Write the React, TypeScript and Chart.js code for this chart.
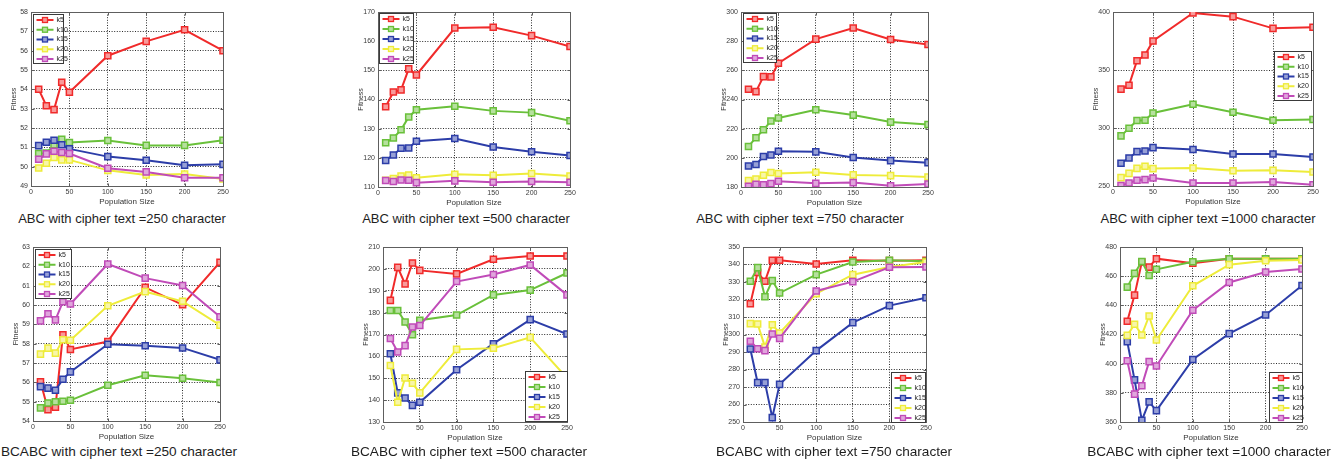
import React, { useEffect, useRef } from "react";
import { Chart, registerables } from "chart.js";

Chart.register(...registerables);

// ---------- data ----------
const populationSizes = [10, 20, 30, 40, 50, 100, 150, 200, 250];
const seriesLabels = ["k5", "k10", "k15", "k20", "k25"];
const seriesColors = ["#f02a2a", "#69c03a", "#2c3da8", "#eeec3a", "#c04bb8"];
const seriesFills = ["#f89a9a", "#b6e09e", "#97a0d6", "#f8f6a8", "#e0a6dc"];
const xTickValues = [0, 50, 100, 150, 200, 250];

// rows: k5, k10, k15, k20, k25
const abc250 = [
  [54.0, 53.15, 52.95, 54.37, 53.85, 55.74, 56.48, 57.08, 56.0],
  [50.68, 50.7, 51.13, 51.42, 51.25, 51.35, 51.1, 51.1, 51.37],
  [51.09, 51.26, 51.37, 51.13, 50.92, 50.52, 50.33, 50.07, 50.12],
  [49.93, 50.18, 50.47, 50.35, 50.35, 49.81, 49.57, 49.62, 49.36],
  [50.38, 50.66, 50.8, 50.73, 50.68, 49.92, 49.73, 49.43, 49.43],
];
const abc500 = [
  [137.5, 142.6, 143.3, 150.5, 148.4, 164.5, 164.8, 161.9, 158.2],
  [125.2, 126.8, 129.6, 134.0, 136.5, 137.7, 136.1, 135.5, 132.7],
  [119.1, 121.0, 123.3, 123.4, 125.7, 126.6, 123.7, 122.1, 120.8],
  [112.3, 112.9, 113.8, 114.1, 113.2, 114.4, 114.0, 114.6, 113.8],
  [112.2, 111.9, 112.4, 112.3, 111.5, 112.1, 111.6, 111.9, 111.6],
];
const abc750 = [
  [247.0, 245.4, 255.7, 255.5, 264.9, 281.4, 289.0, 281.2, 277.7],
  [207.8, 213.8, 219.2, 225.2, 227.3, 233.0, 229.3, 224.5, 222.9],
  [194.4, 195.4, 200.9, 202.0, 204.5, 204.1, 200.2, 198.1, 196.7],
  [184.4, 185.5, 188.0, 189.9, 189.2, 190.1, 188.3, 187.8, 186.9],
  [180.5, 181.8, 181.6, 182.3, 183.9, 182.5, 183.0, 180.9, 182.1],
];
const abc1000 = [
  [333.5, 336.9, 358.0, 362.9, 375.0, 399.1, 396.0, 385.9, 386.8],
  [293.2, 299.8, 306.4, 306.7, 313.0, 320.5, 313.6, 306.7, 307.3],
  [269.6, 274.2, 279.6, 280.2, 283.1, 281.4, 277.6, 277.6, 275.0],
  [257.2, 260.9, 265.2, 267.0, 265.0, 265.5, 263.2, 263.5, 262.1],
  [250.3, 252.6, 254.9, 255.5, 256.9, 252.6, 252.6, 253.4, 251.1],
];
const bcabc250 = [
  [56.03, 54.59, 54.71, 58.46, 57.7, 58.11, 60.91, 60.01, 62.21],
  [54.68, 54.93, 55.0, 55.02, 55.07, 55.85, 56.37, 56.21, 55.99],
  [55.78, 55.7, 55.59, 56.16, 56.54, 57.97, 57.89, 57.78, 57.16],
  [57.46, 57.77, 57.51, 58.2, 58.18, 59.96, 60.69, 60.19, 58.96],
  [59.18, 59.55, 59.23, 60.17, 60.05, 62.12, 61.39, 61.01, 59.39],
];
const bcabc500 = [
  [185.6, 200.7, 193.1, 202.7, 199.3, 197.7, 204.4, 205.9, 205.9],
  [181.0, 181.0, 175.7, 169.9, 176.5, 178.9, 188.1, 190.3, 198.1],
  [161.2, 143.3, 141.0, 137.6, 139.0, 153.9, 165.8, 176.8, 170.2],
  [155.8, 139.0, 150.1, 147.7, 143.3, 163.2, 163.7, 168.7, 150.1],
  [168.2, 162.0, 164.9, 173.4, 174.1, 194.2, 197.4, 201.8, 188.1],
];
const bcabc750 = [
  [317.6, 335.5, 330.4, 342.4, 342.4, 340.3, 342.4, 342.2, 342.4],
  [330.4, 338.2, 321.6, 330.8, 323.7, 334.2, 341.4, 342.4, 341.8],
  [291.7, 272.5, 272.5, 252.5, 271.5, 290.8, 306.8, 316.5, 321.0],
  [306.2, 306.0, 292.9, 305.6, 300.9, 323.3, 334.2, 338.6, 341.4],
  [296.1, 291.9, 290.8, 300.3, 297.8, 324.9, 330.2, 338.4, 338.6],
];
const bcabc1000 = [
  [429.1, 447.0, 469.7, 466.2, 472.0, 468.8, 472.0, 472.0, 472.0],
  [452.5, 461.9, 470.1, 460.5, 464.7, 469.9, 472.0, 472.0, 472.0],
  [415.1, 388.9, 361.1, 373.8, 367.8, 402.9, 420.6, 433.4, 453.6],
  [419.4, 427.0, 419.7, 432.7, 416.2, 453.4, 467.9, 470.6, 471.1],
  [402.0, 379.1, 384.8, 401.4, 398.4, 436.6, 455.7, 462.8, 464.9],
];

const panelSeries = [abc250, abc500, abc750, abc1000, bcabc250, bcabc500, bcabc750, bcabc1000];
const yMins = [49, 110, 180, 250, 54, 130, 250, 360];
const yMaxs = [58, 170, 300, 400, 63, 210, 350, 480];
const ySteps = [1, 10, 20, 50, 1, 10, 10, 20];
const captions = [
  "ABC with cipher text =250 character",
  "ABC with cipher text =500 character",
  "ABC with cipher text =750 character",
  "ABC with cipher text =1000 character",
  "BCABC with cipher text =250 character",
  "BCABC with cipher text =500 character",
  "BCABC with cipher text =750 character",
  "BCABC with cipher text =1000 character",
];

// ---------- layout ----------
const plotRects: [number, number, number, number][] = [
  [31, 12, 223, 186],
  [378, 12, 570, 187],
  [741, 12, 928, 187],
  [1113, 12, 1313, 186],
  [33, 247, 220, 421],
  [383, 247, 567, 422],
  [743, 247, 926, 422],
  [1120, 247, 1302, 422],
];
const legendRects: [number, number, number, number][] = [
  [33, 14, 30, 49],
  [379, 13, 34, 50],
  [743, 13, 33, 49],
  [1274, 51, 37, 49],
  [35, 249, 36, 49],
  [525, 371, 42, 50],
  [891, 372, 34, 50],
  [1269, 372, 33, 50],
];
const captionCenters = [122, 466, 800, 1208, 119, 469, 834, 1209];
const captionTops = [211, 211, 211, 211, 444, 444, 444, 444];
const captionSizes = [13, 13, 13, 13, 13.6, 13.6, 13.6, 13.6];

const PAD_L = 22; // y-axis width
const PAD_T = 8;
const PAD_R = 12;
const X_AXIS_H = 21;
const PAD_B = 2;
const FONT = "Arial, 'Liberation Sans', sans-serif";

function Panel({ idx }: { idx: number }) {
  const ref = useRef<HTMLCanvasElement>(null);
  const [l, t, r, b] = plotRects[idx];
  const cw = r - l + PAD_L + PAD_R;
  const ch = b - t + PAD_T + X_AXIS_H + PAD_B;

  useEffect(() => {
    const canvas = ref.current;
    if (!canvas) return;
    const series = panelSeries[idx];
    const [lx, ly, lw, lh] = legendRects[idx];

    const framePlugin = {
      id: "frame",
      beforeDatasetsDraw(chart: any) {
        const { ctx, chartArea: a } = chart;
        const L = Math.round(a.left) + 0.5;
        const T = Math.round(a.top) + 0.5;
        const R = Math.round(a.right) + 0.5;
        const B = Math.round(a.bottom) + 0.5;
        ctx.save();
        ctx.strokeStyle = "#5e5e5e";
        ctx.lineWidth = 1;
        ctx.setLineDash([]);
        ctx.strokeRect(L, T, R - L, B - T);
        ctx.beginPath();
        const xs = chart.scales.x;
        const ys = chart.scales.y;
        xs.ticks.forEach((tk: any) => {
          const px = Math.round(xs.getPixelForValue(tk.value)) + 0.5;
          ctx.moveTo(px, B);
          ctx.lineTo(px, B - 3);
          ctx.moveTo(px, T);
          ctx.lineTo(px, T + 3);
        });
        ys.ticks.forEach((tk: any) => {
          const py = Math.round(ys.getPixelForValue(tk.value)) + 0.5;
          ctx.moveTo(L, py);
          ctx.lineTo(L + 3, py);
          ctx.moveTo(R, py);
          ctx.lineTo(R - 3, py);
        });
        ctx.stroke();
        ctx.restore();
      },
    };

    const legendPlugin = {
      id: "boxLegend",
      afterDatasetsDraw(chart: any) {
        const { ctx, chartArea: a } = chart;
        const x0 = Math.round(a.left + (lx - l)) + 0.5;
        const y0 = Math.round(a.top + (ly - t)) + 0.5;
        ctx.save();
        ctx.setLineDash([]);
        ctx.fillStyle = "#ffffff";
        ctx.fillRect(x0, y0, lw, lh);
        ctx.strokeStyle = "#3a3a3a";
        ctx.lineWidth = 1;
        ctx.strokeRect(x0, y0, lw, lh);
        const n = chart.data.datasets.length;
        chart.data.datasets.forEach((ds: any, i: number) => {
          const cy = y0 + 5.5 + (i * (lh - 10)) / (n - 1);
          ctx.strokeStyle = ds.borderColor;
          ctx.lineWidth = 2;
          ctx.beginPath();
          ctx.moveTo(x0 + 3, cy);
          ctx.lineTo(x0 + 20, cy);
          ctx.stroke();
          ctx.fillStyle = ds.pointBackgroundColor;
          ctx.lineWidth = 1.3;
          ctx.fillRect(x0 + 9, cy - 2.5, 5, 5);
          ctx.strokeRect(x0 + 9, cy - 2.5, 5, 5);
          ctx.fillStyle = "#222";
          ctx.font = `7px ${FONT}`;
          ctx.textBaseline = "middle";
          ctx.textAlign = "left";
          ctx.fillText(ds.label, x0 + 23, cy);
        });
        ctx.restore();
      },
    };

    const yTickValues: number[] = [];
    for (let v = yMins[idx]; v <= yMaxs[idx] + 1e-9; v += ySteps[idx]) yTickValues.push(v);

    const gridOpts = { color: "#2a2a2a", lineWidth: 1, drawTicks: false };
    const borderOpts = { display: false, dash: [1, 1.6] };

    const chart = new Chart(canvas, {
      type: "line",
      data: {
        datasets: series.map((vals, i) => ({
          label: seriesLabels[i],
          data: populationSizes.map((x, j) => ({ x, y: vals[j] })),
          borderColor: seriesColors[i],
          backgroundColor: seriesColors[i],
          pointBackgroundColor: seriesFills[i],
          pointBorderColor: seriesColors[i],
          pointStyle: "rect",
          pointRadius: 4.3,
          pointBorderWidth: 1.5,
          borderWidth: 2,
          tension: 0,
          fill: false,
          order: 4 - i,
        })),
      },
      options: {
        responsive: false,
        animation: false,
        devicePixelRatio: 1,
        layout: { padding: { left: 0, top: PAD_T, right: PAD_R, bottom: PAD_B } },
        plugins: { legend: { display: false }, tooltip: { enabled: false } },
        scales: {
          x: {
            type: "linear",
            min: 0,
            max: 250,
            afterBuildTicks: (s: any) => {
              s.ticks = xTickValues.map((v) => ({ value: v }));
            },
            afterFit: (s: any) => {
              s.height = X_AXIS_H;
            },
            ticks: {
              font: { size: 7, family: FONT },
              color: "#3a3a3a",
              padding: 2,
              maxRotation: 0,
              autoSkip: false,
            },
            grid: gridOpts,
            border: borderOpts,
            title: {
              display: true,
              text: "Population Size",
              font: { size: 8, family: FONT },
              color: "#333",
              padding: { top: 0, bottom: 0 },
            },
          },
          y: {
            type: "linear",
            min: yMins[idx],
            max: yMaxs[idx],
            afterBuildTicks: (s: any) => {
              s.ticks = yTickValues.map((v) => ({ value: v }));
            },
            afterFit: (s: any) => {
              s.width = PAD_L;
            },
            ticks: {
              font: { size: 7, family: FONT },
              color: "#3a3a3a",
              padding: 3,
              autoSkip: false,
            },
            grid: gridOpts,
            border: borderOpts,
            title: {
              display: true,
              text: "Fitness",
              font: { size: 7, family: FONT },
              color: "#333",
              padding: { top: 1, bottom: 0 },
            },
          },
        },
      },
      plugins: [framePlugin, legendPlugin],
    } as any);
    return () => chart.destroy();
  }, [idx]);

  return (
    <canvas
      ref={ref}
      width={cw}
      height={ch}
      style={{ position: "absolute", left: l - PAD_L, top: t - PAD_T, width: cw, height: ch }}
    />
  );
}

export default function App() {
  return (
    <div
      style={{
        position: "fixed",
        left: 0,
        top: 0,
        width: 1339,
        height: 467,
        background: "#ffffff",
        overflow: "hidden",
      }}
    >
      {panelSeries.map((_, i) => (
        <Panel key={i} idx={i} />
      ))}
      {captions.map((c, i) => (
        <div
          key={"c" + i}
          style={{
            position: "absolute",
            left: captionCenters[i] - 160,
            width: 320,
            top: captionTops[i],
            textAlign: "center",
            fontFamily: FONT,
            fontSize: captionSizes[i],
            lineHeight: "16px",
            color: "#1e1e1e",
            whiteSpace: "nowrap",
          }}
        >
          {c}
        </div>
      ))}
    </div>
  );
}
